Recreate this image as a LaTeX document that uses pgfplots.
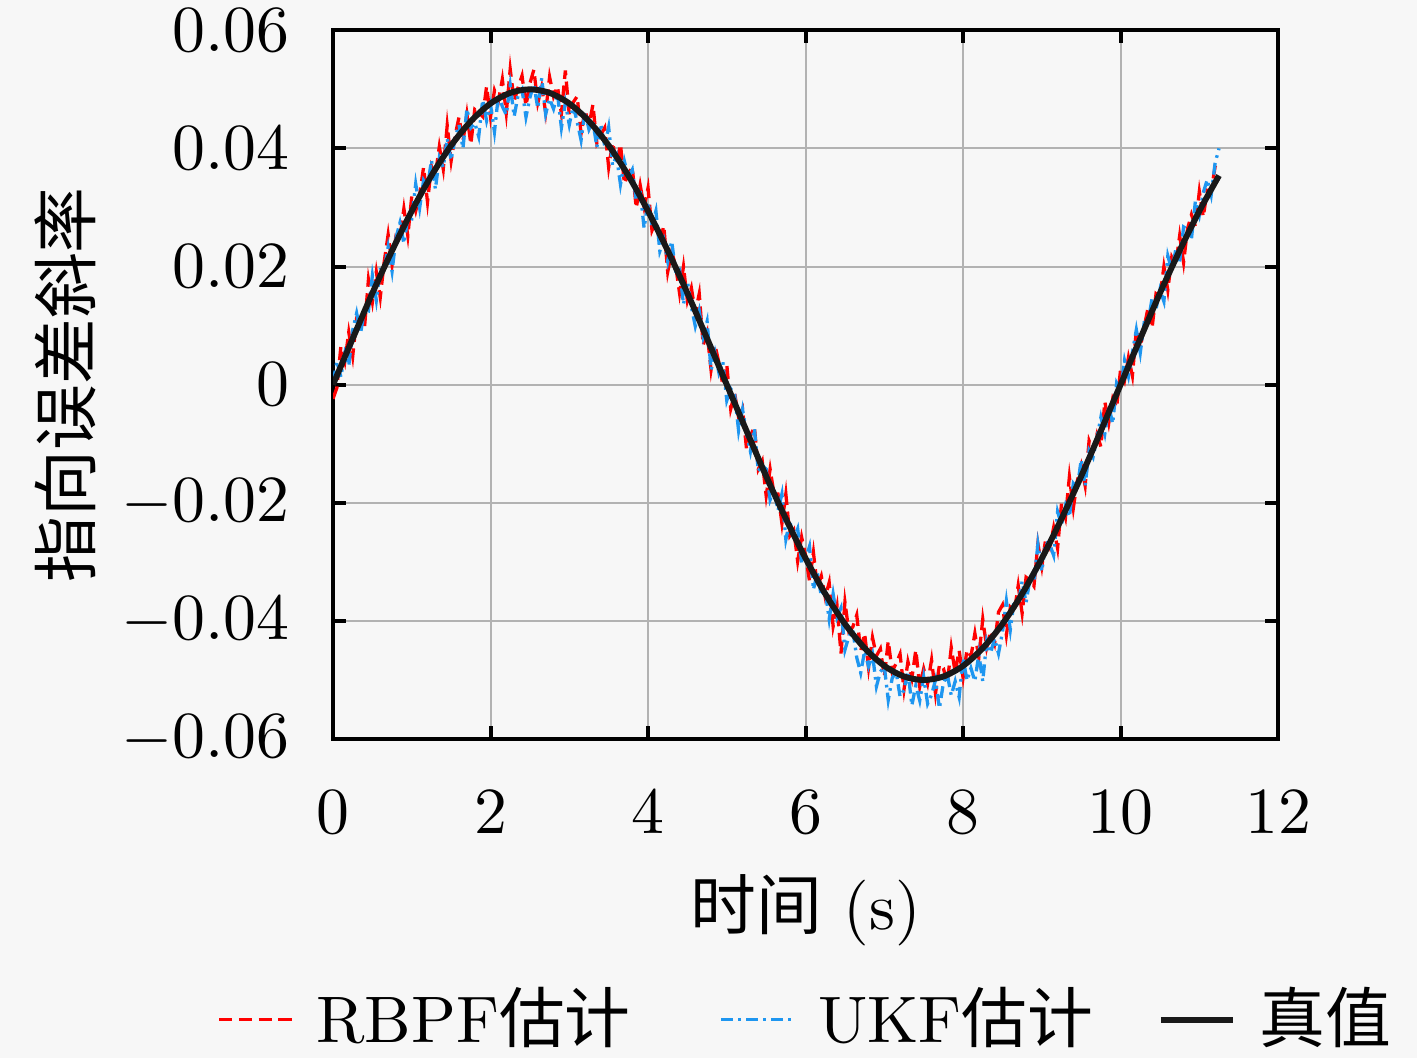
\documentclass[border=0pt]{standalone}
\usepackage{fontspec}
\usepackage{pgfplots}
\pgfplotsset{compat=1.18}
\newfontfamily\cjk{Noto Sans CJK SC}
\definecolor{bgc}{RGB}{247,247,247}
\definecolor{rbpf}{RGB}{255,0,0}
\definecolor{ukf}{RGB}{30,150,240}
\definecolor{gridc}{RGB}{178,178,178}
\definecolor{truec}{RGB}{25,25,25}
\begin{document}
\begin{tikzpicture}
\path[use as bounding box, fill=bgc] (-50.6pt,-48.5pt) rectangle (164.7pt,112.3pt);
\begin{axis}[at={(0,0)}, anchor=south west, scale only axis,
  width=143.6pt, height=107.7pt,
  xmin=0, xmax=12, ymin=-0.06, ymax=0.06,
  xtick={0,2,4,6,8,10,12},
  ytick={-0.06,-0.04,-0.02,0,0.02,0.04,0.06},
  scaled y ticks=false,
  yticklabel style={/pgf/number format/fixed,/pgf/number format/precision=2},
  tick align=inside, tick pos=both, major tick length=2pt,
  grid=major, grid style={gridc, line width=0.3pt},
  axis line style={line width=0.6pt}, tick style={black, line width=0.6pt},
  xticklabel shift=4.4pt, yticklabel shift=3.1pt,
  xlabel={{\cjk 时间} (s)}, ylabel={\cjk 指向误差斜率},
  xlabel style={at={(axis description cs:0.5,-0.241)},anchor=center},
  ylabel style={at={(axis description cs:-0.2835,0.5)},anchor=center},
  legend style={at={(0.5056,-0.396)},anchor=center,draw=none,fill=none,
    legend columns=3,
    /tikz/every odd column/.append style={column sep=1.5pt},
    /tikz/column 2/.style={column sep=11.5pt},
    /tikz/column 4/.style={column sep=7.8pt}},
  legend image code/.code={\draw[#1] (0pt,0pt) -- (11pt,0pt);},
]
\addplot[rbpf, line width=0.5pt, dash pattern=on 2pt off 1pt, mark=none] coordinates {
(0,-0.0024)(0.05,-0.0005)(0.1,0.0065)(0.15,0.0039)(0.2,0.0089)(0.25,0.0048)(0.3,0.0113)(0.35,0.0113)(0.4,0.0097)(0.45,0.0178)
(0.5,0.0140)(0.55,0.0191)(0.6,0.0148)(0.65,0.0208)(0.7,0.0254)(0.75,0.0203)(0.8,0.0252)(0.85,0.0249)(0.9,0.0298)(0.95,0.0252)
(1,0.0319)(1.05,0.0294)(1.1,0.0322)(1.15,0.0368)(1.2,0.0309)(1.25,0.0370)(1.3,0.0355)(1.35,0.0403)(1.4,0.0365)(1.45,0.0439)
(1.5,0.0379)(1.55,0.0421)(1.6,0.0453)(1.65,0.0412)(1.7,0.0458)(1.75,0.0407)(1.8,0.0466)(1.85,0.0461)(1.9,0.0454)(1.95,0.0505)
(2,0.0453)(2.05,0.0498)(2.1,0.0480)(2.15,0.0517)(2.2,0.0460)(2.25,0.0534)(2.3,0.0480)(2.35,0.0503)(2.4,0.0523)(2.45,0.0472)
(2.5,0.0510)(2.55,0.0533)(2.6,0.0477)(2.65,0.0504)(2.7,0.0461)(2.75,0.0521)(2.8,0.0488)(2.85,0.0505)(2.9,0.0459)(2.95,0.0532)
(3,0.0457)(3.05,0.0478)(3.1,0.0488)(3.15,0.0425)(3.2,0.0465)(3.25,0.0439)(3.3,0.0474)(3.35,0.0409)(3.4,0.0423)(3.45,0.0435)
(3.5,0.0368)(3.55,0.0410)(3.6,0.0375)(3.65,0.0407)(3.7,0.0340)(3.75,0.0358)(3.8,0.0368)(3.85,0.0299)(3.9,0.0338)(3.95,0.0301)
(4,0.0333)(4.05,0.0261)(4.1,0.0277)(4.15,0.0241)(4.2,0.0269)(4.25,0.0191)(4.3,0.0225)(4.35,0.0202)(4.4,0.0155)(4.45,0.0200)
(4.5,0.0142)(4.55,0.0164)(4.6,0.0122)(4.65,0.0154)(4.7,0.0067)(4.75,0.0088)(4.8,0.0025)(4.85,0.0067)(4.9,0.0037)(4.95,-0.0001)
(5,0.0034)(5.05,-0.0041)(5.1,-0.0015)(5.15,-0.0055)(5.2,-0.0041)(5.25,-0.0108)(5.3,-0.0087)(5.35,-0.0071)(5.4,-0.0143)(5.45,-0.0129)
(5.5,-0.0188)(5.55,-0.0143)(5.6,-0.0185)(5.65,-0.0185)(5.7,-0.0235)(5.75,-0.0185)(5.8,-0.0256)(5.85,-0.0246)(5.9,-0.0299)(5.95,-0.0258)
(6,-0.0289)(6.05,-0.0332)(6.1,-0.0284)(6.15,-0.0343)(6.2,-0.0324)(6.25,-0.0360)(6.3,-0.0335)(6.35,-0.0409)(6.4,-0.0375)(6.45,-0.0455)
(6.5,-0.0368)(6.55,-0.0418)(6.6,-0.0410)(6.65,-0.0390)(6.7,-0.0451)(6.75,-0.0421)(6.8,-0.0479)(6.85,-0.0428)(6.9,-0.0459)(6.95,-0.0447)
(7,-0.0494)(7.05,-0.0434)(7.1,-0.0485)(7.15,-0.0472)(7.2,-0.0456)(7.25,-0.0516)(7.3,-0.0469)(7.35,-0.0497)(7.4,-0.0449)(7.45,-0.0511)
(7.5,-0.0481)(7.55,-0.0506)(7.6,-0.0466)(7.65,-0.0523)(7.7,-0.0474)(7.75,-0.0480)(7.8,-0.0505)(7.85,-0.0445)(7.9,-0.0487)(7.95,-0.0450)
(8,-0.0496)(8.05,-0.0449)(8.1,-0.0460)(8.15,-0.0421)(8.2,-0.0462)(8.25,-0.0397)(8.3,-0.0445)(8.35,-0.0417)(8.4,-0.0438)(8.45,-0.0385)
(8.5,-0.0373)(8.55,-0.0424)(8.6,-0.0377)(8.65,-0.0385)(8.7,-0.0340)(8.75,-0.0387)(8.8,-0.0326)(8.85,-0.0331)(8.9,-0.0341)(8.95,-0.0269)
(9,-0.0308)(9.05,-0.0260)(9.1,-0.0275)(9.15,-0.0242)(9.2,-0.0277)(9.25,-0.0201)(9.3,-0.0225)(9.35,-0.0156)(9.4,-0.0209)(9.45,-0.0163)
(9.5,-0.0137)(9.55,-0.0171)(9.6,-0.0095)(9.65,-0.0112)(9.7,-0.0084)(9.75,-0.0105)(9.8,-0.0029)(9.85,-0.0065)(9.9,-0.0024)(9.95,-0.0039)
(10,0.0026)(10.05,0.0007)(10.1,0.0046)(10.15,0.0015)(10.2,0.0093)(10.25,0.0063)(10.3,0.0098)(10.35,0.0131)(10.4,0.0096)(10.45,0.0154)
(10.5,0.0149)(10.55,0.0200)(10.6,0.0160)(10.65,0.0216)(10.7,0.0203)(10.75,0.0252)(10.8,0.0207)(10.85,0.0264)(10.9,0.0288)(10.95,0.0268)
(11,0.0327)(11.05,0.0284)(11.1,0.0329)(11.15,0.0327)(11.2,0.0369)(11.25,0.0362)
};
\addlegendentry{RBPF{\cjk 估计}}
\addplot[ukf, line width=0.5pt, dash pattern=on 1.8pt off 0.8pt on 0.4pt off 0.8pt, mark=none] coordinates {
(0,0.0004)(0.05,0.0039)(0.1,0.0013)(0.15,0.0053)(0.2,0.0032)(0.25,0.0092)(0.3,0.0121)(0.35,0.0087)(0.4,0.0127)(0.45,0.0125)
(0.5,0.0185)(0.55,0.0143)(0.6,0.0195)(0.65,0.0195)(0.7,0.0233)(0.75,0.0192)(0.8,0.0249)(0.85,0.0274)(0.9,0.0239)(0.95,0.0283)
(1,0.0281)(1.05,0.0340)(1.1,0.0299)(1.15,0.0346)(1.2,0.0335)(1.25,0.0380)(1.3,0.0331)(1.35,0.0384)(1.4,0.0368)(1.45,0.0417)
(1.5,0.0380)(1.55,0.0418)(1.6,0.0440)(1.65,0.0400)(1.7,0.0467)(1.75,0.0435)(1.8,0.0443)(1.85,0.0420)(1.9,0.0482)(1.95,0.0447)
(2,0.0474)(2.05,0.0428)(2.1,0.0490)(2.15,0.0471)(2.2,0.0457)(2.25,0.0507)(2.3,0.0454)(2.35,0.0490)(2.4,0.0500)(2.45,0.0453)
(2.5,0.0486)(2.55,0.0509)(2.6,0.0468)(2.65,0.0519)(2.7,0.0458)(2.75,0.0484)(2.8,0.0467)(2.85,0.0493)(2.9,0.0435)(2.95,0.0477)
(3,0.0440)(3.05,0.0472)(3.1,0.0445)(3.15,0.0414)(3.2,0.0462)(3.25,0.0432)(3.3,0.0446)(3.35,0.0402)(3.4,0.0441)(3.45,0.0404)
(3.5,0.0436)(3.55,0.0371)(3.6,0.0387)(3.65,0.0339)(3.7,0.0378)(3.75,0.0351)(3.8,0.0364)(3.85,0.0311)(3.9,0.0328)(3.95,0.0265)
(4,0.0309)(4.05,0.0269)(4.1,0.0294)(4.15,0.0226)(4.2,0.0245)(4.25,0.0209)(4.3,0.0243)(4.35,0.0193)(4.4,0.0195)(4.45,0.0136)
(4.5,0.0175)(4.55,0.0132)(4.6,0.0099)(4.65,0.0125)(4.7,0.0081)(4.75,0.0107)(4.8,0.0025)(4.85,0.0054)(4.9,0.0020)(4.95,0.0039)
(5,-0.0027)(5.05,-0.0007)(5.1,-0.0017)(5.15,-0.0078)(5.2,-0.0042)(5.25,-0.0082)(5.3,-0.0113)(5.35,-0.0074)(5.4,-0.0146)(5.45,-0.0137)
(5.5,-0.0143)(5.55,-0.0195)(5.6,-0.0178)(5.65,-0.0213)(5.7,-0.0185)(5.75,-0.0262)(5.8,-0.0231)(5.85,-0.0262)(5.9,-0.0244)(5.95,-0.0301)
(6,-0.0296)(6.05,-0.0274)(6.1,-0.0347)(6.15,-0.0318)(6.2,-0.0358)(6.25,-0.0349)(6.3,-0.0397)(6.35,-0.0354)(6.4,-0.0394)(6.45,-0.0378)
(6.5,-0.0449)(6.55,-0.0426)(6.6,-0.0415)(6.65,-0.0462)(6.7,-0.0488)(6.75,-0.0451)(6.8,-0.0477)(6.85,-0.0456)(6.9,-0.0511)(6.95,-0.0486)
(7,-0.0477)(7.05,-0.0534)(7.1,-0.0497)(7.15,-0.0486)(7.2,-0.0528)(7.25,-0.0517)(7.3,-0.0485)(7.35,-0.0543)(7.4,-0.0509)(7.45,-0.0535)
(7.5,-0.0495)(7.55,-0.0540)(7.6,-0.0525)(7.65,-0.0500)(7.7,-0.0548)(7.75,-0.0505)(7.8,-0.0491)(7.85,-0.0526)(7.9,-0.0502)(7.95,-0.0529)
(8,-0.0463)(8.05,-0.0501)(8.1,-0.0480)(8.15,-0.0502)(8.2,-0.0456)(8.25,-0.0502)(8.3,-0.0434)(8.35,-0.0454)(8.4,-0.0430)(8.45,-0.0455)
(8.5,-0.0419)(8.55,-0.0366)(8.6,-0.0415)(8.65,-0.0364)(8.7,-0.0372)(8.75,-0.0333)(8.8,-0.0369)(8.85,-0.0328)(8.9,-0.0335)(8.95,-0.0270)
(9,-0.0316)(9.05,-0.0267)(9.1,-0.0270)(9.15,-0.0289)(9.2,-0.0215)(9.25,-0.0237)(9.3,-0.0205)(9.35,-0.0224)(9.4,-0.0167)(9.45,-0.0175)
(9.5,-0.0127)(9.55,-0.0171)(9.6,-0.0111)(9.65,-0.0123)(9.7,-0.0090)(9.75,-0.0055)(9.8,-0.0083)(9.85,-0.0037)(9.9,-0.0066)(9.95,0.0003)
(10,-0.0009)(10.05,0.0041)(10.1,0.0014)(10.15,0.0054)(10.2,0.0093)(10.25,0.0054)(10.3,0.0105)(10.35,0.0106)(10.4,0.0146)(10.45,0.0128)
(10.5,0.0161)(10.55,0.0141)(10.6,0.0218)(10.65,0.0194)(10.7,0.0228)(10.75,0.0208)(10.8,0.0267)(10.85,0.0263)(10.9,0.0247)(10.95,0.0311)
(11,0.0287)(11.05,0.0325)(11.1,0.0347)(11.15,0.0321)(11.2,0.0375)(11.25,0.0400)
};
\addlegendentry{UKF{\cjk 估计}}
\addplot[truec, line width=0.9pt, smooth, mark=none] coordinates {
(0,0)(0.25,0.0078)(0.5,0.0155)(0.75,0.0227)(1,0.0294)(1.25,0.0354)(1.5,0.0405)(1.75,0.0446)(2,0.0476)(2.25,0.0494)
(2.5,0.05)(2.75,0.0494)(3,0.0476)(3.25,0.0446)(3.5,0.0405)(3.75,0.0354)(4,0.0294)(4.25,0.0227)(4.5,0.0155)(4.75,0.0078)
(5,0)(5.25,-0.0078)(5.5,-0.0155)(5.75,-0.0227)(6,-0.0294)(6.25,-0.0354)(6.5,-0.0405)(6.75,-0.0446)(7,-0.0476)(7.25,-0.0494)
(7.5,-0.05)(7.75,-0.0494)(8,-0.0476)(8.25,-0.0446)(8.5,-0.0405)(8.75,-0.0354)(9,-0.0294)(9.25,-0.0227)(9.5,-0.0155)(9.75,-0.0078)
(10,0)(10.25,0.0078)(10.5,0.0155)(10.75,0.0227)(11,0.0294)(11.25,0.0354)
};
\addlegendentry{{\cjk 真值}}
\end{axis}
\end{tikzpicture}
\end{document}
